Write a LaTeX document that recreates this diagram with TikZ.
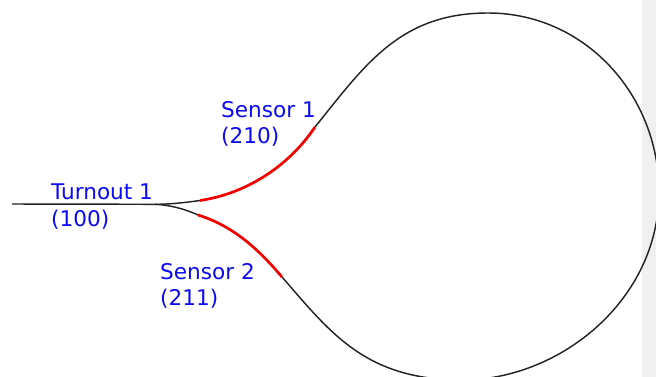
\documentclass[tikz,border=0pt]{standalone}
\usepackage{fontspec}
\setmainfont{DejaVu Sans}
\definecolor{lbl}{RGB}{10,10,245}
\definecolor{strip}{RGB}{240,240,240}
\definecolor{track}{RGB}{35,35,35}
\tikzset{
  trackline/.style={draw=track,line width=1.45pt},
  sensorline/.style={draw=red!95!black,line width=2.7pt},
  lab/.style={text=lbl,font=\fontsize{21.6}{26}\selectfont,align=left,anchor=base west,inner sep=0pt}
}
\begin{document}
\begin{tikzpicture}[x=1pt,y=-1pt]
\useasboundingbox (0,0) rectangle (656,377);
\clip (0,0) rectangle (656,377);
\fill[white] (0,0) rectangle (656,377);
\fill[strip] (642,0) rectangle (656,377);
\coordinate (start) at (12,204);
\coordinate (fork) at (155,204.3);
\coordinate (s1a) at (200,200.5);
\coordinate (s1b) at (315,127);
\coordinate (top) at (488,13);
\coordinate (right) at (659,192);
\coordinate (bot) at (462,380);
\coordinate (s2b) at (282,277);
\coordinate (s2a) at (198,215);
\draw[trackline] (start) -- (fork)
  .. controls (170,204.3) and (186,202.5) .. (s1a);
\draw[trackline] (s1b) .. controls (365,65) and (400,13) .. (top)
  .. controls (585,13) and (659,95) .. (right)
  .. controls (659,300) and (560,380) .. (bot)
  .. controls (365,380) and (330,332) .. (s2b);
\draw[trackline] (fork) .. controls (170,205) and (185,209) .. (s2a);
\draw[sensorline] (s1a) .. controls (250,193) and (291,163) .. (s1b);
\draw[sensorline] (s2a) .. controls (230,225) and (255,245) .. (s2b);
\node[lab] (n1) at (221,118) {Sensor 1};
\node[lab] (n2) at (221,144) {(210)};
\node[lab] (n3) at (51,200) {Turnout 1};
\node[lab] (n4) at (51,226) {(100)};
\node[lab] (n5) at (160,279) {Sensor 2};
\node[lab] (n6) at (160,305) {(211)};
\end{tikzpicture}
\end{document}
